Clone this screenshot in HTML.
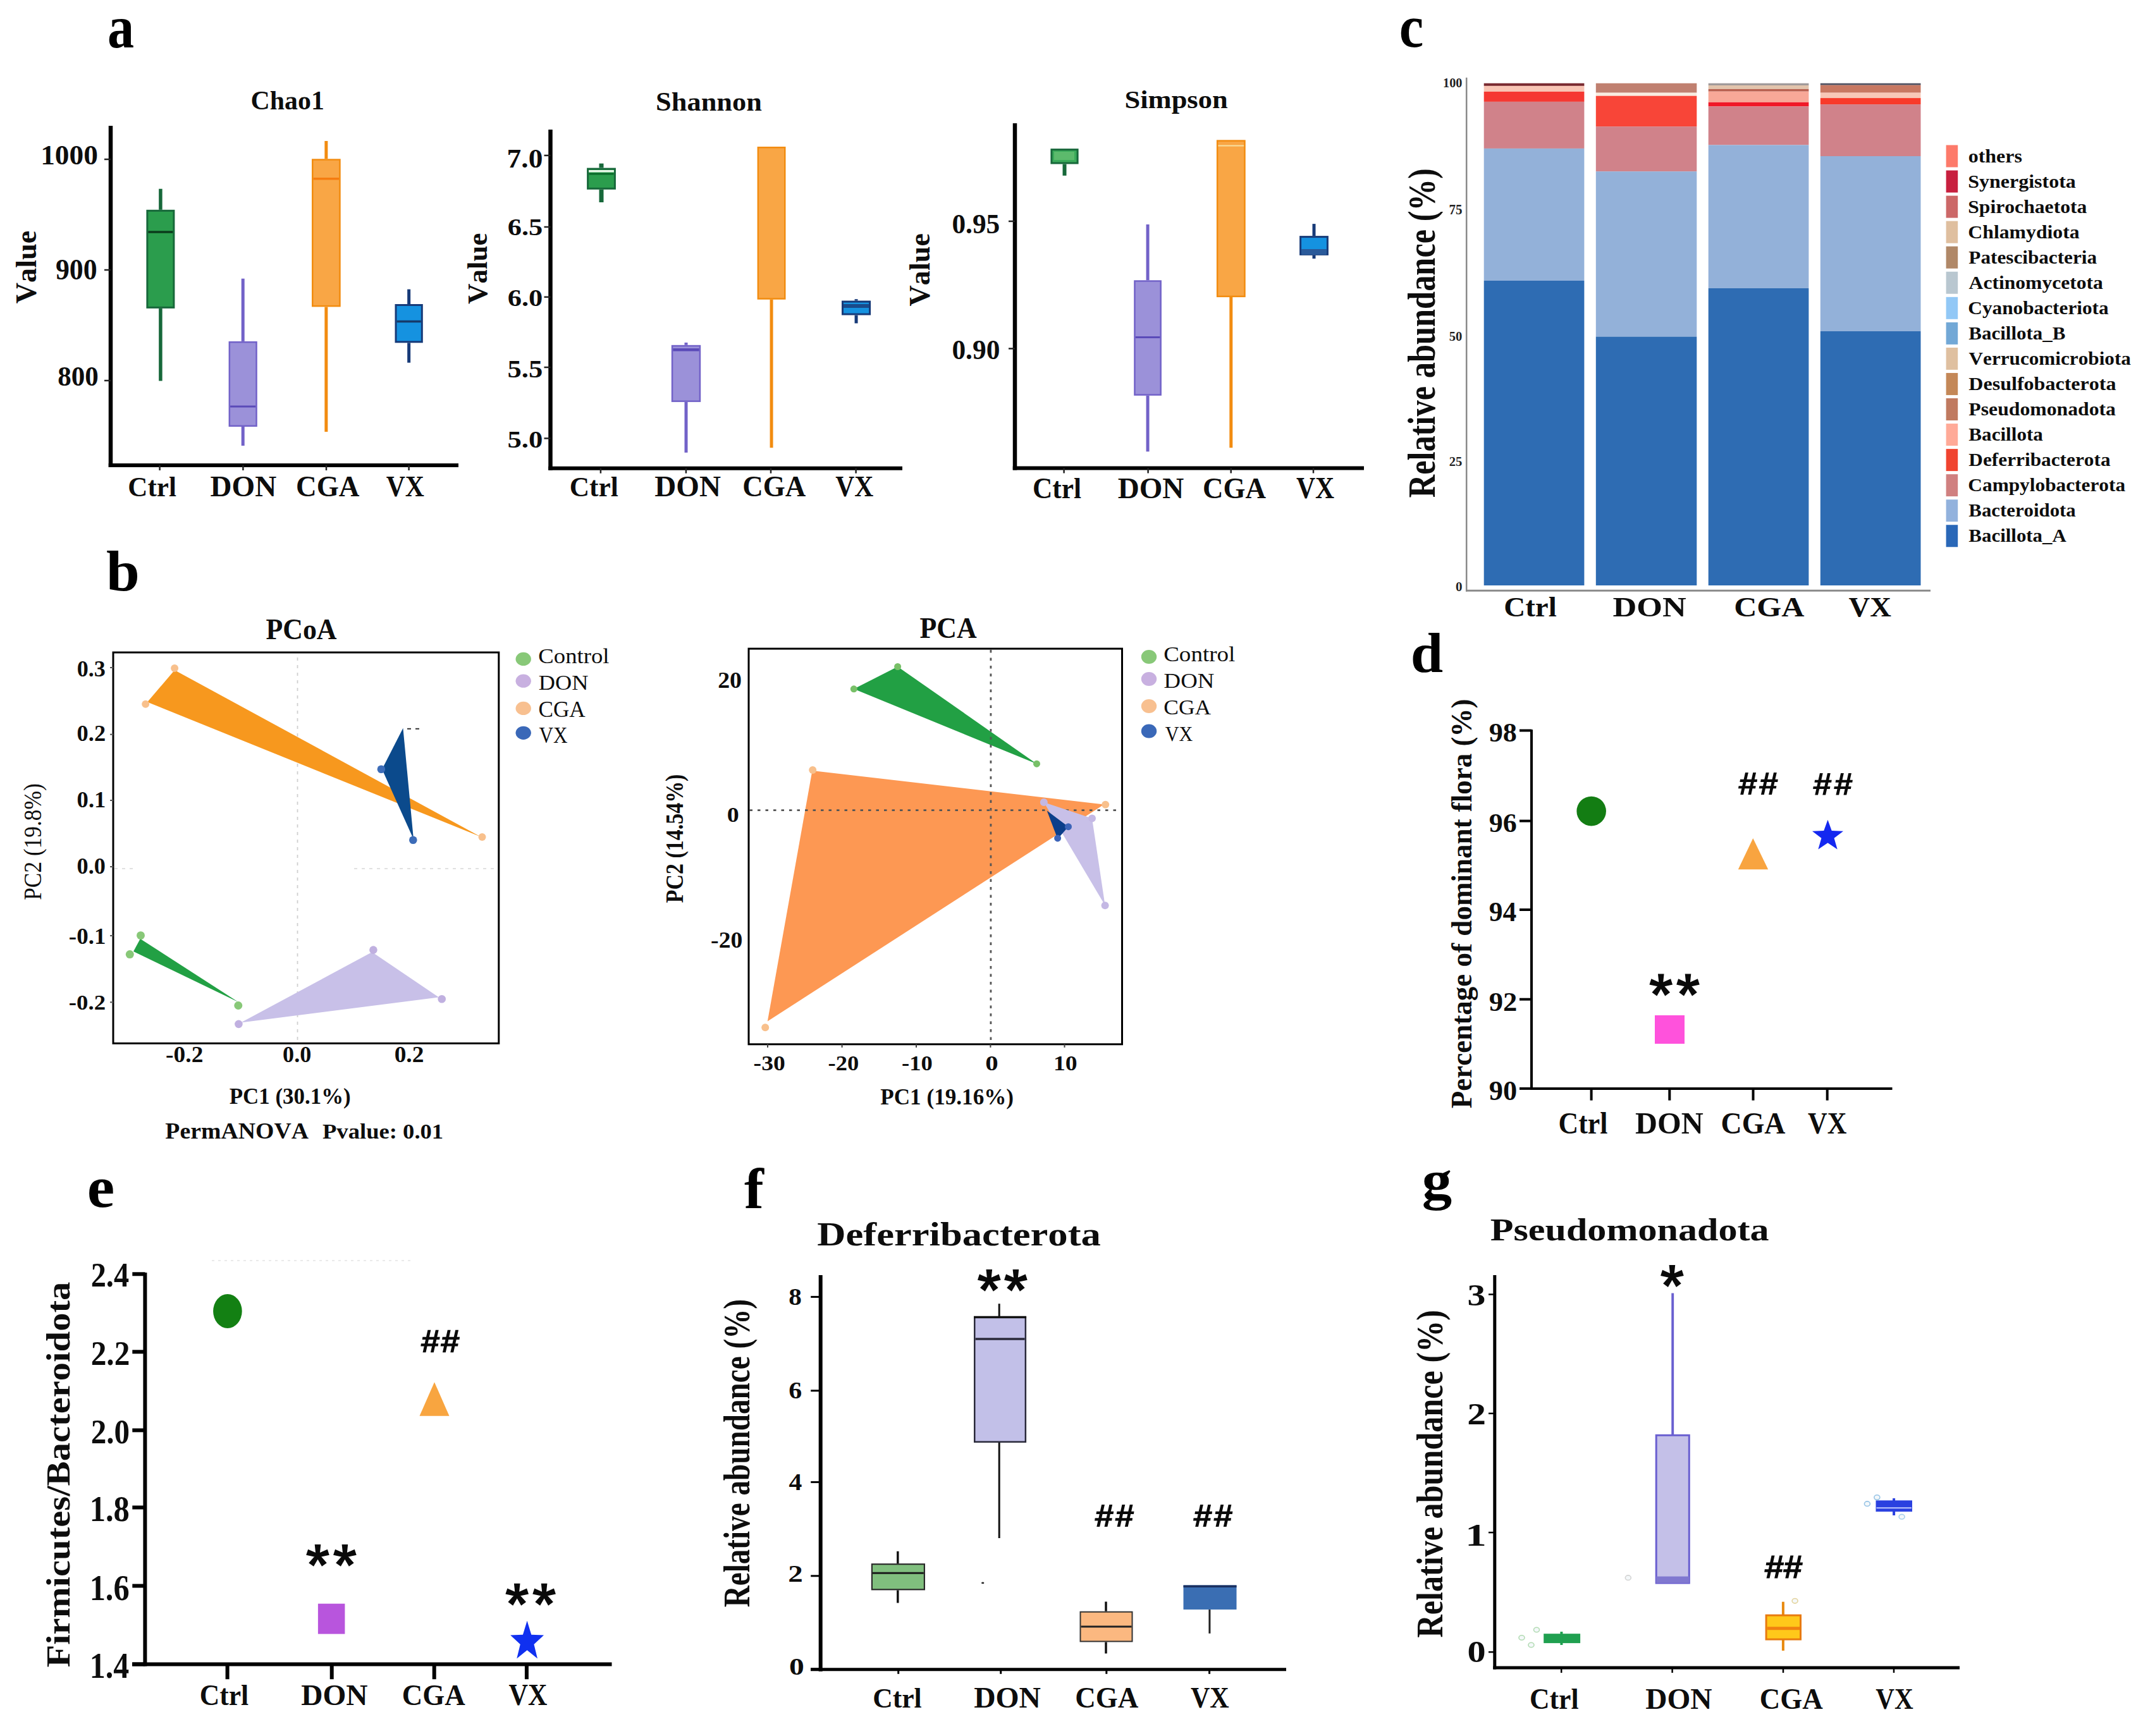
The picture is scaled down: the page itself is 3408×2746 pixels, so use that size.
<!DOCTYPE html>
<html><head><meta charset="utf-8"><style>
html,body{margin:0;padding:0;background:#fff;}
svg{display:block;}
text{font-family:"Liberation Serif", serif;font-kerning:none;}
</style></head><body>
<svg xmlns="http://www.w3.org/2000/svg" width="3408" height="2746" viewBox="0 0 3408 2746">
<rect width="3408" height="2746" fill="#fff"/>
<text x="169.99" y="74.50" font-size="95.90" font-weight="bold" fill="#000" textLength="42.09" lengthAdjust="spacingAndGlyphs" >a</text>
<text x="168.09" y="933.50" font-size="91.66" font-weight="bold" fill="#000" textLength="52.86" lengthAdjust="spacingAndGlyphs" >b</text>
<text x="2212.83" y="73.60" font-size="94.65" font-weight="bold" fill="#000" textLength="38.53" lengthAdjust="spacingAndGlyphs" >c</text>
<text x="2230.66" y="1063.10" font-size="88.49" font-weight="bold" fill="#000" textLength="51.38" lengthAdjust="spacingAndGlyphs" >d</text>
<text x="137.75" y="1908.60" font-size="92.72" font-weight="bold" fill="#000" textLength="43.48" lengthAdjust="spacingAndGlyphs" >e</text>
<text x="1176.92" y="1911.00" font-size="90.33" font-weight="bold" fill="#000" textLength="30.87" lengthAdjust="spacingAndGlyphs" >f</text>
<text x="2248.80" y="1895.65" font-size="87.21" font-weight="bold" fill="#000" textLength="47.43" lengthAdjust="spacingAndGlyphs" >g</text>
<text x="396.56" y="172.90" font-size="42.52" font-weight="bold" fill="#0d0d0d" textLength="116.31" lengthAdjust="spacingAndGlyphs" >Chao1</text>
<line x1="175" y1="199" x2="175" y2="739" stroke="#000" stroke-width="6.5" />
<line x1="171.75" y1="736" x2="725" y2="736" stroke="#000" stroke-width="6" />
<line x1="165" y1="252" x2="175" y2="252" stroke="#222" stroke-width="2.5" />
<text x="64.17" y="260.20" font-size="44.66" font-weight="bold" fill="#0d0d0d" textLength="90.76" lengthAdjust="spacingAndGlyphs" >1000</text>
<line x1="165" y1="427" x2="175" y2="427" stroke="#222" stroke-width="2.5" />
<text x="87.90" y="442.20" font-size="46.01" font-weight="bold" fill="#0d0d0d" textLength="65.77" lengthAdjust="spacingAndGlyphs" >900</text>
<line x1="165" y1="602" x2="175" y2="602" stroke="#222" stroke-width="2.5" />
<text x="91.17" y="609.50" font-size="44.06" font-weight="bold" fill="#0d0d0d" textLength="64.57" lengthAdjust="spacingAndGlyphs" >800</text>
<text transform="translate(56.70,480.32) rotate(-90)" x="0" y="0" font-size="45.83" font-weight="bold" fill="#0d0d0d" textLength="115.51" lengthAdjust="spacingAndGlyphs">Value</text>
<line x1="252.6" y1="736" x2="252.6" y2="744" stroke="#222" stroke-width="2.5" />
<line x1="384.4" y1="736" x2="384.4" y2="744" stroke="#222" stroke-width="2.5" />
<line x1="516" y1="736" x2="516" y2="744" stroke="#222" stroke-width="2.5" />
<line x1="646.6" y1="736" x2="646.6" y2="744" stroke="#222" stroke-width="2.5" />
<text x="202.29" y="784.90" font-size="44.53" font-weight="bold" fill="#0d0d0d" textLength="76.64" lengthAdjust="spacingAndGlyphs" >Ctrl</text>
<text x="332.57" y="784.90" font-size="45.61" font-weight="bold" fill="#0d0d0d" textLength="104.65" lengthAdjust="spacingAndGlyphs" >DON</text>
<text x="468.09" y="784.90" font-size="45.61" font-weight="bold" fill="#0d0d0d" textLength="100.44" lengthAdjust="spacingAndGlyphs" >CGA</text>
<text x="610.63" y="784.90" font-size="46.12" font-weight="bold" fill="#0d0d0d" textLength="60.16" lengthAdjust="spacingAndGlyphs" >VX</text>
<line x1="253.89999999999998" y1="298.7" x2="253.89999999999998" y2="331.8" stroke="#17683a" stroke-width="5.5" />
<line x1="253.89999999999998" y1="487.9" x2="253.89999999999998" y2="602.5" stroke="#17683a" stroke-width="5.5" />
<rect x="232.90" y="333.30" width="42.00" height="153.10" fill="#2b9d4d" stroke="#17683a" stroke-width="3" />
<line x1="234.4" y1="367" x2="273.4" y2="367" stroke="#0b3b1b" stroke-width="3.6" />
<line x1="384.20000000000005" y1="440.7" x2="384.20000000000005" y2="539.9" stroke="#7262c8" stroke-width="5" />
<line x1="384.20000000000005" y1="675" x2="384.20000000000005" y2="705" stroke="#7262c8" stroke-width="5" />
<rect x="362.85" y="541.15" width="42.70" height="132.60" fill="#9b91d9" stroke="#7262c8" stroke-width="2.5" />
<line x1="364.1" y1="643" x2="404.3" y2="643" stroke="#5a4ab8" stroke-width="3" />
<line x1="515.85" y1="223" x2="515.85" y2="251.3" stroke="#f28c10" stroke-width="5" />
<line x1="515.85" y1="485.4" x2="515.85" y2="683" stroke="#f28c10" stroke-width="5" />
<rect x="494.25" y="252.55" width="43.20" height="231.60" fill="#f9a645" stroke="#f28c10" stroke-width="2.5" />
<line x1="495.5" y1="282.7" x2="536.2" y2="282.7" stroke="#f57c10" stroke-width="3.5" />
<line x1="646.65" y1="457.6" x2="646.65" y2="481" stroke="#173a78" stroke-width="5" />
<line x1="646.65" y1="542.3" x2="646.65" y2="573.7" stroke="#173a78" stroke-width="5" />
<rect x="626.00" y="482.50" width="41.30" height="58.30" fill="#1592e0" stroke="#173a78" stroke-width="3" />
<line x1="627.5" y1="508.4" x2="665.8" y2="508.4" stroke="#163a6a" stroke-width="3.5" />
<text x="1037.14" y="175.10" font-size="42.80" font-weight="bold" fill="#0d0d0d" textLength="167.73" lengthAdjust="spacingAndGlyphs" >Shannon</text>
<line x1="870.5" y1="205" x2="870.5" y2="743.7" stroke="#000" stroke-width="6.5" />
<line x1="867.25" y1="740.7" x2="1427" y2="740.7" stroke="#000" stroke-width="6" />
<line x1="860.5" y1="245.9" x2="870.5" y2="245.9" stroke="#222" stroke-width="2.5" />
<text x="801.61" y="265.20" font-size="41.20" font-weight="bold" fill="#0d0d0d" textLength="56.72" lengthAdjust="spacingAndGlyphs" >7.0</text>
<line x1="860.5" y1="359" x2="870.5" y2="359" stroke="#222" stroke-width="2.5" />
<text x="802.68" y="372.30" font-size="38.51" font-weight="bold" fill="#0d0d0d" textLength="55.55" lengthAdjust="spacingAndGlyphs" >6.5</text>
<line x1="860.5" y1="469.8" x2="870.5" y2="469.8" stroke="#222" stroke-width="2.5" />
<text x="802.68" y="484.20" font-size="38.19" font-weight="bold" fill="#0d0d0d" textLength="55.62" lengthAdjust="spacingAndGlyphs" >6.0</text>
<line x1="860.5" y1="581" x2="870.5" y2="581" stroke="#222" stroke-width="2.5" />
<text x="802.41" y="597.00" font-size="39.71" font-weight="bold" fill="#0d0d0d" textLength="55.82" lengthAdjust="spacingAndGlyphs" >5.5</text>
<line x1="860.5" y1="693.4" x2="870.5" y2="693.4" stroke="#222" stroke-width="2.5" />
<text x="802.41" y="707.80" font-size="38.95" font-weight="bold" fill="#0d0d0d" textLength="55.89" lengthAdjust="spacingAndGlyphs" >5.0</text>
<text transform="translate(770.30,480.91) rotate(-90)" x="0" y="0" font-size="43.67" font-weight="bold" fill="#0d0d0d" textLength="112.47" lengthAdjust="spacingAndGlyphs">Value</text>
<line x1="949.9" y1="740.7" x2="949.9" y2="748.7" stroke="#222" stroke-width="2.5" />
<line x1="1084.9" y1="740.7" x2="1084.9" y2="748.7" stroke="#222" stroke-width="2.5" />
<line x1="1219" y1="740.7" x2="1219" y2="748.7" stroke="#222" stroke-width="2.5" />
<line x1="1353.6" y1="740.7" x2="1353.6" y2="748.7" stroke="#222" stroke-width="2.5" />
<text x="900.68" y="784.90" font-size="45.11" font-weight="bold" fill="#0d0d0d" textLength="77.06" lengthAdjust="spacingAndGlyphs" >Ctrl</text>
<text x="1035.37" y="784.90" font-size="46.22" font-weight="bold" fill="#0d0d0d" textLength="104.65" lengthAdjust="spacingAndGlyphs" >DON</text>
<text x="1174.30" y="784.90" font-size="46.22" font-weight="bold" fill="#0d0d0d" textLength="100.03" lengthAdjust="spacingAndGlyphs" >CGA</text>
<text x="1321.13" y="784.90" font-size="46.73" font-weight="bold" fill="#0d0d0d" textLength="60.05" lengthAdjust="spacingAndGlyphs" >VX</text>
<line x1="951.0" y1="258.6" x2="951.0" y2="265.6" stroke="#17683a" stroke-width="7" />
<line x1="951.0" y1="299.8" x2="951.0" y2="320" stroke="#17683a" stroke-width="7" />
<rect x="929.60" y="267.10" width="42.80" height="31.20" fill="#2b9d4d" stroke="#17683a" stroke-width="3" />
<line x1="931.1" y1="270.8" x2="970.9" y2="270.8" stroke="#e8f8e8" stroke-width="3.6" />
<line x1="1085.0" y1="541.9" x2="1085.0" y2="545.8" stroke="#7262c8" stroke-width="5" />
<line x1="1085.0" y1="635.9" x2="1085.0" y2="715.9" stroke="#7262c8" stroke-width="5" />
<rect x="1063.05" y="547.05" width="43.90" height="87.60" fill="#9b91d9" stroke="#7262c8" stroke-width="2.5" />
<line x1="1064.3" y1="553.3" x2="1105.7" y2="553.3" stroke="#5a4ab8" stroke-width="4.5" />
<line x1="1220.05" y1="473.8" x2="1220.05" y2="708.2" stroke="#f28c10" stroke-width="5" />
<rect x="1198.85" y="233.25" width="42.40" height="239.30" fill="#f9a645" stroke="#f28c10" stroke-width="2.5" />
<line x1="1354.05" y1="473.2" x2="1354.05" y2="475.6" stroke="#173a78" stroke-width="5" />
<line x1="1354.05" y1="498.5" x2="1354.05" y2="511.4" stroke="#173a78" stroke-width="5" />
<rect x="1332.50" y="477.10" width="43.10" height="19.90" fill="#1592e0" stroke="#173a78" stroke-width="3" />
<line x1="1334" y1="484" x2="1374.1" y2="484" stroke="#1a4a8a" stroke-width="6" />
<text x="1778.53" y="170.50" font-size="41.08" font-weight="bold" fill="#0d0d0d" textLength="163.14" lengthAdjust="spacingAndGlyphs" >Simpson</text>
<line x1="1605" y1="195" x2="1605" y2="743.5" stroke="#000" stroke-width="6.5" />
<line x1="1601.75" y1="740.5" x2="2157" y2="740.5" stroke="#000" stroke-width="6" />
<line x1="1595" y1="350" x2="1605" y2="350" stroke="#222" stroke-width="2.5" />
<text x="1505.45" y="368.50" font-size="44.51" font-weight="bold" fill="#0d0d0d" textLength="75.84" lengthAdjust="spacingAndGlyphs" >0.95</text>
<line x1="1595" y1="551.4" x2="1605" y2="551.4" stroke="#222" stroke-width="2.5" />
<text x="1505.45" y="567.60" font-size="43.31" font-weight="bold" fill="#0d0d0d" textLength="75.90" lengthAdjust="spacingAndGlyphs" >0.90</text>
<text transform="translate(1470.10,484.52) rotate(-90)" x="0" y="0" font-size="45.98" font-weight="bold" fill="#0d0d0d" textLength="115.51" lengthAdjust="spacingAndGlyphs">Value</text>
<line x1="1682.6" y1="740.5" x2="1682.6" y2="748.5" stroke="#222" stroke-width="2.5" />
<line x1="1815.6" y1="740.5" x2="1815.6" y2="748.5" stroke="#222" stroke-width="2.5" />
<line x1="1946.7" y1="740.5" x2="1946.7" y2="748.5" stroke="#222" stroke-width="2.5" />
<line x1="2077" y1="740.5" x2="2077" y2="748.5" stroke="#222" stroke-width="2.5" />
<text x="1632.88" y="787.90" font-size="46.12" font-weight="bold" fill="#0d0d0d" textLength="77.16" lengthAdjust="spacingAndGlyphs" >Ctrl</text>
<text x="1767.67" y="787.90" font-size="47.27" font-weight="bold" fill="#0d0d0d" textLength="104.65" lengthAdjust="spacingAndGlyphs" >DON</text>
<text x="1902.00" y="787.90" font-size="47.27" font-weight="bold" fill="#0d0d0d" textLength="100.03" lengthAdjust="spacingAndGlyphs" >CGA</text>
<text x="2049.93" y="787.90" font-size="47.80" font-weight="bold" fill="#0d0d0d" textLength="60.16" lengthAdjust="spacingAndGlyphs" >VX</text>
<line x1="1683.5" y1="259.5" x2="1683.5" y2="277.8" stroke="#17683a" stroke-width="6" />
<rect x="1662.90" y="236.60" width="41.20" height="21.40" fill="#3aaa5a" stroke="#17683a" stroke-width="3" />
<line x1="1815.0500000000002" y1="355" x2="1815.0500000000002" y2="443.3" stroke="#7262c8" stroke-width="5" />
<line x1="1815.0500000000002" y1="625.8" x2="1815.0500000000002" y2="714.3" stroke="#7262c8" stroke-width="5" />
<rect x="1794.45" y="444.55" width="41.20" height="180.00" fill="#9b91d9" stroke="#7262c8" stroke-width="2.5" />
<line x1="1795.7" y1="533.6" x2="1834.4" y2="533.6" stroke="#5a4ab8" stroke-width="3" />
<line x1="1946.8000000000002" y1="470.1" x2="1946.8000000000002" y2="708.2" stroke="#f28c10" stroke-width="5" />
<rect x="1925.15" y="222.65" width="43.30" height="246.20" fill="#f9a645" stroke="#f28c10" stroke-width="2.5" />
<line x1="1926.4" y1="230.5" x2="1967.2" y2="230.5" stroke="#f8e0a0" stroke-width="2" />
<line x1="2078.0" y1="354.1" x2="2078.0" y2="373.1" stroke="#173a78" stroke-width="5" />
<line x1="2078.0" y1="403.9" x2="2078.0" y2="409.1" stroke="#173a78" stroke-width="5" />
<rect x="2056.60" y="374.60" width="42.80" height="27.80" fill="#1592e0" stroke="#173a78" stroke-width="3" />
<line x1="2058.1" y1="398.5" x2="2097.9" y2="398.5" stroke="#2a5a9a" stroke-width="9" />
<line x1="931.5" y1="275" x2="970.5" y2="275" stroke="#0a6a2a" stroke-width="3" />
<rect x="1667.00" y="240.00" width="32.00" height="13.00" fill="#5cba6c" />
<line x1="2319.2" y1="122.7" x2="2319.2" y2="935.5" stroke="#8a8a8a" stroke-width="2.5" />
<line x1="2318" y1="934.3" x2="3053" y2="934.3" stroke="#8a8a8a" stroke-width="3" />
<text x="2282.08" y="138.20" font-size="20.60" font-weight="bold" fill="#222" textLength="30.29" lengthAdjust="spacingAndGlyphs" >100</text>
<text x="2291.40" y="338.50" font-size="22.14" font-weight="bold" fill="#222" textLength="20.97" lengthAdjust="spacingAndGlyphs" >75</text>
<text x="2291.77" y="539.00" font-size="21.80" font-weight="bold" fill="#222" textLength="20.61" lengthAdjust="spacingAndGlyphs" >50</text>
<text x="2291.73" y="736.80" font-size="21.90" font-weight="bold" fill="#222" textLength="20.62" lengthAdjust="spacingAndGlyphs" >25</text>
<text x="2301.90" y="934.70" font-size="21.35" font-weight="bold" fill="#222" textLength="10.50" lengthAdjust="spacingAndGlyphs" >0</text>
<text transform="translate(2268.50,787.16) rotate(-90)" x="0" y="0" font-size="62.01" font-weight="bold" fill="#0d0d0d" textLength="520.88" lengthAdjust="spacingAndGlyphs">Relative abundance (%)</text>
<rect x="2346.70" y="131.70" width="158.70" height="4.20" fill="#7a2a30" />
<rect x="2346.70" y="135.90" width="158.70" height="9.10" fill="#f8c4b4" />
<rect x="2346.70" y="145.00" width="158.70" height="15.90" fill="#f53832" />
<rect x="2346.70" y="160.90" width="158.70" height="74.00" fill="#d0828a" />
<rect x="2346.70" y="234.90" width="158.70" height="209.10" fill="#93b1d9" />
<rect x="2346.70" y="444.00" width="158.70" height="482.00" fill="#2e6cb3" />
<rect x="2523.80" y="131.70" width="159.50" height="15.00" fill="#c08070" />
<rect x="2523.80" y="146.70" width="159.50" height="5.00" fill="#f8ece0" />
<rect x="2523.80" y="151.70" width="159.50" height="48.50" fill="#f84538" />
<rect x="2523.80" y="200.20" width="159.50" height="71.00" fill="#d0828a" />
<rect x="2523.80" y="271.20" width="159.50" height="261.30" fill="#93b1d9" />
<rect x="2523.80" y="532.50" width="159.50" height="393.50" fill="#2e6cb3" />
<rect x="2701.70" y="131.70" width="158.70" height="3.30" fill="#a09a9a" />
<rect x="2701.70" y="135.00" width="158.70" height="5.90" fill="#e2c4ac" />
<rect x="2701.70" y="140.90" width="158.70" height="3.80" fill="#b86050" />
<rect x="2701.70" y="144.70" width="158.70" height="17.10" fill="#f8a898" />
<rect x="2701.70" y="161.80" width="158.70" height="6.60" fill="#f01828" />
<rect x="2701.70" y="168.40" width="158.70" height="61.00" fill="#d0828a" />
<rect x="2701.70" y="229.40" width="158.70" height="226.60" fill="#93b1d9" />
<rect x="2701.70" y="456.00" width="158.70" height="470.00" fill="#2e6cb3" />
<rect x="2878.80" y="131.70" width="158.70" height="3.00" fill="#505060" />
<rect x="2878.80" y="134.70" width="158.70" height="12.00" fill="#c87862" />
<rect x="2878.80" y="146.70" width="158.70" height="8.40" fill="#f8c8b8" />
<rect x="2878.80" y="155.10" width="158.70" height="10.00" fill="#f83a2a" />
<rect x="2878.80" y="165.10" width="158.70" height="81.90" fill="#d0828a" />
<rect x="2878.80" y="247.00" width="158.70" height="277.00" fill="#93b1d9" />
<rect x="2878.80" y="524.00" width="158.70" height="402.00" fill="#2e6cb3" />
<text x="2378.20" y="974.80" font-size="43.53" font-weight="bold" fill="#0d0d0d" textLength="83.60" lengthAdjust="spacingAndGlyphs" >Ctrl</text>
<text x="2550.58" y="974.80" font-size="44.25" font-weight="bold" fill="#0d0d0d" textLength="116.31" lengthAdjust="spacingAndGlyphs" >DON</text>
<text x="2742.15" y="974.80" font-size="44.25" font-weight="bold" fill="#0d0d0d" textLength="111.42" lengthAdjust="spacingAndGlyphs" >CGA</text>
<text x="2923.58" y="974.80" font-size="44.75" font-weight="bold" fill="#0d0d0d" textLength="67.47" lengthAdjust="spacingAndGlyphs" >VX</text>
<rect x="3077.60" y="229.50" width="18.60" height="35.00" fill="#fd7a6a" />
<text x="3112.68" y="257.20" font-size="29.93" font-weight="bold" fill="#0d0d0d" textLength="85.20" lengthAdjust="spacingAndGlyphs">others</text>
<rect x="3077.60" y="269.55" width="18.60" height="35.00" fill="#c8203f" />
<text x="3112.20" y="297.20" font-size="29.93" font-weight="bold" fill="#0d0d0d" textLength="170.59" lengthAdjust="spacingAndGlyphs">Synergistota</text>
<rect x="3077.60" y="309.60" width="18.60" height="35.00" fill="#cc6868" />
<text x="3112.22" y="337.20" font-size="29.93" font-weight="bold" fill="#0d0d0d" textLength="188.16" lengthAdjust="spacingAndGlyphs">Spirochaetota</text>
<rect x="3077.60" y="349.65" width="18.60" height="35.00" fill="#dfbf9f" />
<text x="3112.35" y="377.20" font-size="29.93" font-weight="bold" fill="#0d0d0d" textLength="176.33" lengthAdjust="spacingAndGlyphs">Chlamydiota</text>
<rect x="3077.60" y="389.70" width="18.60" height="35.00" fill="#b08868" />
<text x="3113.37" y="417.20" font-size="29.93" font-weight="bold" fill="#0d0d0d" textLength="202.71" lengthAdjust="spacingAndGlyphs">Patescibacteria</text>
<rect x="3077.60" y="429.75" width="18.60" height="35.00" fill="#b9c7d0" />
<text x="3113.59" y="457.20" font-size="29.93" font-weight="bold" fill="#0d0d0d" textLength="212.29" lengthAdjust="spacingAndGlyphs">Actinomycetota</text>
<rect x="3077.60" y="469.80" width="18.60" height="35.00" fill="#92c8f6" />
<text x="3112.37" y="497.20" font-size="29.93" font-weight="bold" fill="#0d0d0d" textLength="222.30" lengthAdjust="spacingAndGlyphs">Cyanobacteriota</text>
<rect x="3077.60" y="509.85" width="18.60" height="35.00" fill="#72a8d6" />
<text x="3113.39" y="537.20" font-size="29.93" font-weight="bold" fill="#0d0d0d" textLength="153.08" lengthAdjust="spacingAndGlyphs">Bacillota_B</text>
<rect x="3077.60" y="549.90" width="18.60" height="35.00" fill="#dfc0a0" />
<text x="3113.55" y="577.20" font-size="29.93" font-weight="bold" fill="#0d0d0d" textLength="256.32" lengthAdjust="spacingAndGlyphs">Verrucomicrobiota</text>
<rect x="3077.60" y="589.95" width="18.60" height="35.00" fill="#c48858" />
<text x="3113.34" y="617.20" font-size="29.93" font-weight="bold" fill="#0d0d0d" textLength="233.15" lengthAdjust="spacingAndGlyphs">Desulfobacterota</text>
<rect x="3077.60" y="630.00" width="18.60" height="35.00" fill="#c07a60" />
<text x="3113.36" y="657.20" font-size="29.93" font-weight="bold" fill="#0d0d0d" textLength="232.62" lengthAdjust="spacingAndGlyphs">Pseudomonadota</text>
<rect x="3077.60" y="670.05" width="18.60" height="35.00" fill="#ffaa98" />
<text x="3113.38" y="697.20" font-size="29.93" font-weight="bold" fill="#0d0d0d" textLength="117.49" lengthAdjust="spacingAndGlyphs">Bacillota</text>
<rect x="3077.60" y="710.10" width="18.60" height="35.00" fill="#f04430" />
<text x="3113.35" y="737.20" font-size="29.93" font-weight="bold" fill="#0d0d0d" textLength="224.22" lengthAdjust="spacingAndGlyphs">Deferribacterota</text>
<rect x="3077.60" y="750.15" width="18.60" height="35.00" fill="#d08080" />
<text x="3112.37" y="777.20" font-size="29.93" font-weight="bold" fill="#0d0d0d" textLength="248.70" lengthAdjust="spacingAndGlyphs">Campylobacterota</text>
<rect x="3077.60" y="790.20" width="18.60" height="35.00" fill="#92b2dd" />
<text x="3113.39" y="817.20" font-size="29.93" font-weight="bold" fill="#0d0d0d" textLength="169.38" lengthAdjust="spacingAndGlyphs">Bacteroidota</text>
<rect x="3077.60" y="830.25" width="18.60" height="35.00" fill="#2a68b8" />
<text x="3113.39" y="857.20" font-size="29.93" font-weight="bold" fill="#0d0d0d" textLength="154.44" lengthAdjust="spacingAndGlyphs">Bacillota_A</text>
<text x="420.45" y="1011.20" font-size="46.67" font-weight="bold" fill="#0d0d0d" textLength="112.07" lengthAdjust="spacingAndGlyphs" >PCoA</text>
<line x1="470.5" y1="1040" x2="470.5" y2="1646" stroke="#cfcfcf" stroke-width="1.8" stroke-dasharray="5 7"/>
<line x1="181" y1="1374" x2="215" y2="1374" stroke="#d8d8d8" stroke-width="1.5" stroke-dasharray="5 7"/>
<line x1="560" y1="1374" x2="786" y2="1374" stroke="#d8d8d8" stroke-width="1.5" stroke-dasharray="5 7"/>
<polygon points="276.10,1060.00 233.00,1110.50 760.00,1323.50" fill="#f7981e" />
<circle cx="276.1" cy="1057.1" r="6" fill="#f8c08c" />
<circle cx="230.2" cy="1113.7" r="6" fill="#f8c08c" />
<circle cx="762.5" cy="1323.9" r="6" fill="#f8c08c" />
<polygon points="637.40,1151.80 604.20,1216.80 654.00,1327.40" fill="#0b4a8c" />
<circle cx="602.9" cy="1216.8" r="6.3" fill="#3c6cb8" />
<circle cx="653.3" cy="1328.8" r="6.3" fill="#3c6cb8" />
<polygon points="221.80,1485.00 211.00,1505.00 376.80,1585.00" fill="#22a044" />
<circle cx="222.5" cy="1479.7" r="6.5" fill="#88c878" />
<circle cx="205.3" cy="1509.6" r="6.5" fill="#88c878" />
<circle cx="376.8" cy="1590.5" r="6.5" fill="#88c878" />
<polygon points="588.40,1506.00 694.00,1577.50 381.00,1617.50" fill="#c8c0e8" />
<circle cx="590.4" cy="1502.6" r="6.3" fill="#c0b0e0" />
<circle cx="698.7" cy="1580.3" r="6.3" fill="#c0b0e0" />
<circle cx="377.4" cy="1619.9" r="6.3" fill="#c0b0e0" />
<line x1="644" y1="1152.8" x2="650" y2="1152.8" stroke="#333" stroke-width="2" />
<line x1="657" y1="1152.8" x2="663" y2="1152.8" stroke="#333" stroke-width="2" />
<rect x="179.00" y="1032.00" width="609.80" height="618.40" fill="none" stroke="#000" stroke-width="3" />
<line x1="174" y1="1056" x2="179" y2="1056" stroke="#555" stroke-width="2" />
<text x="121.63" y="1069.70" font-size="36.24" font-weight="bold" fill="#0d0d0d" textLength="45.11" lengthAdjust="spacingAndGlyphs" >0.3</text>
<line x1="174" y1="1161.7" x2="179" y2="1161.7" stroke="#555" stroke-width="2" />
<text x="121.62" y="1172.20" font-size="34.89" font-weight="bold" fill="#0d0d0d" textLength="45.45" lengthAdjust="spacingAndGlyphs" >0.2</text>
<line x1="174" y1="1266" x2="179" y2="1266" stroke="#555" stroke-width="2" />
<text x="121.60" y="1277.40" font-size="35.49" font-weight="bold" fill="#0d0d0d" textLength="45.79" lengthAdjust="spacingAndGlyphs" >0.1</text>
<line x1="174" y1="1371" x2="179" y2="1371" stroke="#555" stroke-width="2" />
<text x="121.62" y="1382.40" font-size="35.79" font-weight="bold" fill="#0d0d0d" textLength="45.26" lengthAdjust="spacingAndGlyphs" >0.0</text>
<line x1="174" y1="1480.1" x2="179" y2="1480.1" stroke="#555" stroke-width="2" />
<text x="108.85" y="1492.80" font-size="36.09" font-weight="bold" fill="#0d0d0d" textLength="58.57" lengthAdjust="spacingAndGlyphs" >-0.1</text>
<line x1="174" y1="1585.3" x2="179" y2="1585.3" stroke="#555" stroke-width="2" />
<text x="108.85" y="1597.20" font-size="34.58" font-weight="bold" fill="#0d0d0d" textLength="58.23" lengthAdjust="spacingAndGlyphs" >-0.2</text>
<text x="262.13" y="1680.10" font-size="35.34" font-weight="bold" fill="#0d0d0d" textLength="59.28" lengthAdjust="spacingAndGlyphs" >-0.2</text>
<text x="447.12" y="1680.10" font-size="35.34" font-weight="bold" fill="#0d0d0d" textLength="45.26" lengthAdjust="spacingAndGlyphs" >0.0</text>
<text x="623.68" y="1680.10" font-size="35.34" font-weight="bold" fill="#0d0d0d" textLength="46.73" lengthAdjust="spacingAndGlyphs" >0.2</text>
<text x="362.80" y="1745.80" font-size="34.97" font-weight="bold" fill="#0d0d0d" textLength="191.93" lengthAdjust="spacingAndGlyphs" >PC1 (30.1%)</text>
<text x="261.35" y="1801.40" font-size="36.25" font-weight="bold" fill="#0d0d0d" textLength="226.62" lengthAdjust="spacingAndGlyphs" >PermANOVA</text>
<text x="509.97" y="1801.40" font-size="34.59" font-weight="bold" fill="#0d0d0d" textLength="191.22" lengthAdjust="spacingAndGlyphs" >Pvalue: 0.01</text>
<text transform="translate(65.00,1423.82) rotate(-90)" x="0" y="0" font-size="39.71" font-weight="normal" fill="#0d0d0d" textLength="184.47" lengthAdjust="spacingAndGlyphs">PC2 (19.8%)</text>
<ellipse cx="827.7" cy="1042.4" rx="12.2" ry="10.6" fill="#88c878" />
<text x="851.39" y="1049.40" font-size="32.86" font-weight="normal" fill="#0d0d0d" textLength="112.14" lengthAdjust="spacingAndGlyphs" >Control</text>
<ellipse cx="827.7" cy="1077.2" rx="12.2" ry="10.6" fill="#c8b0e0" />
<text x="851.86" y="1091.40" font-size="34.44" font-weight="normal" fill="#0d0d0d" textLength="78.58" lengthAdjust="spacingAndGlyphs" >DON</text>
<ellipse cx="827.7" cy="1120.4" rx="12.2" ry="10.6" fill="#f8c090" />
<text x="851.46" y="1133.90" font-size="35.19" font-weight="normal" fill="#0d0d0d" textLength="74.30" lengthAdjust="spacingAndGlyphs" >CGA</text>
<ellipse cx="827.7" cy="1159.3" rx="12.2" ry="10.6" fill="#3a68b8" />
<text x="852.55" y="1175.40" font-size="34.82" font-weight="normal" fill="#0d0d0d" textLength="44.91" lengthAdjust="spacingAndGlyphs" >VX</text>
<text x="1454.55" y="1009.10" font-size="45.76" font-weight="bold" fill="#0d0d0d" textLength="90.17" lengthAdjust="spacingAndGlyphs" >PCA</text>
<polygon points="1419.60,1054.50 1350.30,1089.80 1639.50,1208.20" fill="#22a044" />
<circle cx="1419.6" cy="1054.5" r="5.5" fill="#78c068" />
<circle cx="1350.3" cy="1089.8" r="5.5" fill="#78c068" />
<circle cx="1639.5" cy="1208.2" r="5.5" fill="#78c068" />
<polygon points="1284.50,1219.00 1746.00,1272.50 1213.80,1615.50" fill="#fd9853" />
<circle cx="1285.2" cy="1218" r="6" fill="#f8c08c" />
<circle cx="1748.2" cy="1272.7" r="6" fill="#f8c08c" />
<circle cx="1210.2" cy="1625.3" r="6" fill="#f8c08c" />
<line x1="1566.9" y1="1028" x2="1566.9" y2="1650" stroke="#555" stroke-width="2.8" stroke-dasharray="4.5 8"/>
<line x1="1185.5" y1="1281.7" x2="1773" y2="1281.7" stroke="#555" stroke-width="2.8" stroke-dasharray="4.5 8"/>
<polygon points="1650.80,1269.00 1727.00,1294.40 1747.60,1432.30" fill="#c8c0e8" />
<circle cx="1650.8" cy="1269" r="6" fill="#c4b8e4" />
<circle cx="1727" cy="1294.4" r="6" fill="#c4b8e4" />
<circle cx="1747.6" cy="1432.3" r="6" fill="#c4b8e4" />
<polygon points="1655.60,1282.30 1689.50,1307.70 1672.60,1327.10" fill="#0b3e8a" />
<circle cx="1672.6" cy="1325.9" r="5.5" fill="#3c64b8" />
<circle cx="1689.5" cy="1307.7" r="5.5" fill="#3c64b8" />
<rect x="1184.00" y="1026.10" width="590.50" height="625.70" fill="none" stroke="#000" stroke-width="3" />
<text x="1135.21" y="1088.20" font-size="36.09" font-weight="bold" fill="#0d0d0d" textLength="37.83" lengthAdjust="spacingAndGlyphs" >20</text>
<text x="1149.85" y="1300.10" font-size="33.38" font-weight="bold" fill="#0d0d0d" textLength="18.99" lengthAdjust="spacingAndGlyphs" >0</text>
<text x="1124.12" y="1499.20" font-size="36.84" font-weight="bold" fill="#0d0d0d" textLength="50.21" lengthAdjust="spacingAndGlyphs" >-20</text>
<line x1="1214" y1="1651.8" x2="1214" y2="1657" stroke="#444" stroke-width="2" />
<text x="1191.62" y="1693.30" font-size="33.98" font-weight="bold" fill="#0d0d0d" textLength="50.21" lengthAdjust="spacingAndGlyphs" >-30</text>
<line x1="1331.6" y1="1651.8" x2="1331.6" y2="1657" stroke="#444" stroke-width="2" />
<text x="1309.56" y="1693.30" font-size="33.98" font-weight="bold" fill="#0d0d0d" textLength="48.73" lengthAdjust="spacingAndGlyphs" >-20</text>
<line x1="1449" y1="1651.8" x2="1449" y2="1657" stroke="#444" stroke-width="2" />
<text x="1426.06" y="1693.30" font-size="33.98" font-weight="bold" fill="#0d0d0d" textLength="48.73" lengthAdjust="spacingAndGlyphs" >-10</text>
<line x1="1566.4" y1="1651.8" x2="1566.4" y2="1657" stroke="#444" stroke-width="2" />
<text x="1558.15" y="1693.30" font-size="33.98" font-weight="bold" fill="#0d0d0d" textLength="20.41" lengthAdjust="spacingAndGlyphs" >0</text>
<line x1="1683.5" y1="1651.8" x2="1683.5" y2="1657" stroke="#444" stroke-width="2" />
<text x="1665.99" y="1693.30" font-size="33.98" font-weight="bold" fill="#0d0d0d" textLength="37.65" lengthAdjust="spacingAndGlyphs" >10</text>
<text x="1392.30" y="1746.70" font-size="35.13" font-weight="bold" fill="#0d0d0d" textLength="210.74" lengthAdjust="spacingAndGlyphs" >PC1 (19.16%)</text>
<text transform="translate(1080.30,1428.28) rotate(-90)" x="0" y="0" font-size="39.40" font-weight="bold" fill="#0d0d0d" textLength="203.67" lengthAdjust="spacingAndGlyphs">PC2 (14.54%)</text>
<ellipse cx="1817" cy="1039" rx="12.2" ry="10.9" fill="#88c878" />
<text x="1840.18" y="1045.80" font-size="32.86" font-weight="normal" fill="#0d0d0d" textLength="113.16" lengthAdjust="spacingAndGlyphs" >Control</text>
<ellipse cx="1817" cy="1074" rx="12.2" ry="10.9" fill="#c8b0e0" />
<text x="1840.64" y="1087.80" font-size="32.93" font-weight="normal" fill="#0d0d0d" textLength="79.60" lengthAdjust="spacingAndGlyphs" >DON</text>
<ellipse cx="1817" cy="1117" rx="12.2" ry="10.9" fill="#f8c090" />
<text x="1840.25" y="1129.80" font-size="34.59" font-weight="normal" fill="#0d0d0d" textLength="74.81" lengthAdjust="spacingAndGlyphs" >CGA</text>
<ellipse cx="1817" cy="1156.5" rx="12.2" ry="10.9" fill="#3a68b8" />
<text x="1842.86" y="1171.70" font-size="33.90" font-weight="normal" fill="#0d0d0d" textLength="43.48" lengthAdjust="spacingAndGlyphs" >VX</text>
<line x1="2422" y1="1154" x2="2422" y2="1724" stroke="#000" stroke-width="4" />
<line x1="2420" y1="1722" x2="2992.5" y2="1722" stroke="#000" stroke-width="4" />
<line x1="2403" y1="1155.5" x2="2422" y2="1155.5" stroke="#000" stroke-width="4" />
<text x="2354.79" y="1172.50" font-size="42.85" font-weight="bold" fill="#0d0d0d" textLength="44.17" lengthAdjust="spacingAndGlyphs" >98</text>
<line x1="2403" y1="1298.6" x2="2422" y2="1298.6" stroke="#000" stroke-width="4" />
<text x="2354.80" y="1315.80" font-size="43.20" font-weight="bold" fill="#0d0d0d" textLength="43.99" lengthAdjust="spacingAndGlyphs" >96</text>
<line x1="2403" y1="1439" x2="2422" y2="1439" stroke="#000" stroke-width="4" />
<text x="2354.81" y="1456.80" font-size="43.50" font-weight="bold" fill="#0d0d0d" textLength="43.50" lengthAdjust="spacingAndGlyphs" >94</text>
<line x1="2403" y1="1580.7" x2="2422" y2="1580.7" stroke="#000" stroke-width="4" />
<text x="2354.78" y="1598.50" font-size="43.04" font-weight="bold" fill="#0d0d0d" textLength="44.64" lengthAdjust="spacingAndGlyphs" >92</text>
<line x1="2403" y1="1721.9" x2="2422" y2="1721.9" stroke="#000" stroke-width="4" />
<text x="2354.79" y="1739.50" font-size="44.36" font-weight="bold" fill="#0d0d0d" textLength="44.41" lengthAdjust="spacingAndGlyphs" >90</text>
<line x1="2516.6" y1="1722" x2="2516.6" y2="1740.6" stroke="#000" stroke-width="4" />
<line x1="2640.3" y1="1722" x2="2640.3" y2="1740.6" stroke="#000" stroke-width="4" />
<line x1="2772.5" y1="1722" x2="2772.5" y2="1740.6" stroke="#000" stroke-width="4" />
<line x1="2889.7" y1="1722" x2="2889.7" y2="1740.6" stroke="#000" stroke-width="4" />
<text x="2464.56" y="1792.80" font-size="48.43" font-weight="bold" fill="#0d0d0d" textLength="77.79" lengthAdjust="spacingAndGlyphs" >Ctrl</text>
<text x="2586.05" y="1792.80" font-size="48.63" font-weight="bold" fill="#0d0d0d" textLength="107.79" lengthAdjust="spacingAndGlyphs" >DON</text>
<text x="2721.56" y="1792.80" font-size="48.63" font-weight="bold" fill="#0d0d0d" textLength="101.87" lengthAdjust="spacingAndGlyphs" >CGA</text>
<text x="2859.02" y="1792.80" font-size="49.18" font-weight="bold" fill="#0d0d0d" textLength="61.27" lengthAdjust="spacingAndGlyphs" >VX</text>
<!--d ylabel-->
<text transform="translate(2327.20,1753.17) rotate(-90)" x="0" y="0" font-size="45.66" font-weight="bold" fill="#0d0d0d" textLength="647.75" lengthAdjust="spacingAndGlyphs">Percentage of dominant flora (%)</text>
<circle cx="2516.65" cy="1283.1" r="23.3" fill="#137d13" />
<rect x="2617.00" y="1606.00" width="47.00" height="45.00" fill="#ff52dc" />
<polygon points="2772.30,1326.00 2796.20,1375.20 2748.80,1375.20" fill="#f8a440" />
<polygon points="2890.50,1296.80 2896.72,1314.04 2915.04,1314.63 2900.56,1325.87 2905.66,1343.47 2890.50,1333.18 2875.34,1343.47 2880.44,1325.87 2865.96,1314.63 2884.28,1314.04" fill="#1428f0" />
<path d="M2629.75,1558.30 L2631.55,1540.60 L2621.95,1540.60 L2623.75,1558.30Z M2627.68,1561.15 L2645.07,1557.40 L2642.10,1548.27 L2625.82,1555.45Z M2624.32,1560.06 L2633.27,1575.44 L2641.04,1569.80 L2629.18,1556.54Z M2624.32,1556.54 L2612.46,1569.80 L2620.23,1575.44 L2629.18,1560.06Z M2627.68,1555.45 L2611.40,1548.27 L2608.43,1557.40 L2625.82,1561.15Z" fill="#0a0a0a"/>
<circle cx="2626.75" cy="1558.3" r="3.7199999999999998" fill="#0a0a0a" />
<path d="M2672.50,1558.30 L2674.30,1540.60 L2664.70,1540.60 L2666.50,1558.30Z M2670.43,1561.15 L2687.82,1557.40 L2684.85,1548.27 L2668.57,1555.45Z M2667.07,1560.06 L2676.02,1575.44 L2683.79,1569.80 L2671.93,1556.54Z M2667.07,1556.54 L2655.21,1569.80 L2662.98,1575.44 L2671.93,1560.06Z M2670.43,1555.45 L2654.15,1548.27 L2651.18,1557.40 L2668.57,1561.15Z" fill="#0a0a0a"/>
<circle cx="2669.5" cy="1558.3" r="3.7199999999999998" fill="#0a0a0a" />
<path d="M2760.03,1221.90 L2764.85,1221.90 L2757.02,1257.00 L2752.21,1257.00Z M2772.27,1221.90 L2777.08,1221.90 L2769.26,1257.00 L2764.44,1257.00Z M2752.01,1232.73 L2779.09,1232.73 L2778.48,1236.94 L2751.41,1236.94Z M2749.60,1243.16 L2776.68,1243.16 L2776.08,1247.37 L2749.00,1247.37Z" fill="#0a0a0a"/>
<path d="M2792.75,1221.90 L2797.56,1221.90 L2789.74,1257.00 L2784.92,1257.00Z M2804.98,1221.90 L2809.79,1221.90 L2801.97,1257.00 L2797.16,1257.00Z M2784.72,1232.73 L2811.80,1232.73 L2811.20,1236.94 L2784.12,1236.94Z M2782.32,1243.16 L2809.39,1243.16 L2808.79,1247.37 L2781.71,1247.37Z" fill="#0a0a0a"/>
<path d="M2877.97,1223.00 L2882.72,1223.00 L2875.01,1257.60 L2870.26,1257.60Z M2890.03,1223.00 L2894.78,1223.00 L2887.07,1257.60 L2882.32,1257.60Z M2870.07,1233.68 L2896.76,1233.68 L2896.16,1237.83 L2869.47,1237.83Z M2867.69,1243.96 L2894.38,1243.96 L2893.79,1248.11 L2867.10,1248.11Z" fill="#0a0a0a"/>
<path d="M2911.12,1223.00 L2915.86,1223.00 L2908.15,1257.60 L2903.41,1257.60Z M2923.18,1223.00 L2927.92,1223.00 L2920.21,1257.60 L2915.47,1257.60Z M2903.21,1233.68 L2929.90,1233.68 L2929.31,1237.83 L2902.62,1237.83Z M2900.84,1243.96 L2927.53,1243.96 L2926.93,1248.11 L2900.24,1248.11Z" fill="#0a0a0a"/>
<line x1="1994" y1="1994" x2="1994" y2="1994" stroke="#fff" stroke-width="0" />
<line x1="335" y1="1994" x2="650" y2="1994" stroke="#e4e4e4" stroke-width="1.5" stroke-dasharray="4 6"/>
<line x1="229.4" y1="2013" x2="229.4" y2="2635.5" stroke="#000" stroke-width="6" />
<line x1="209" y1="2632.5" x2="967.5" y2="2632.5" stroke="#000" stroke-width="6" />
<line x1="209.3" y1="2015.3" x2="229.4" y2="2015.3" stroke="#000" stroke-width="6" />
<text x="143.67" y="2035.20" font-size="55.28" font-weight="bold" fill="#0d0d0d" textLength="60.43" lengthAdjust="spacingAndGlyphs" >2.4</text>
<line x1="209.3" y1="2138.3" x2="229.4" y2="2138.3" stroke="#000" stroke-width="6" />
<text x="143.63" y="2159.20" font-size="53.92" font-weight="bold" fill="#0d0d0d" textLength="61.69" lengthAdjust="spacingAndGlyphs" >2.2</text>
<line x1="209.3" y1="2262.4" x2="229.4" y2="2262.4" stroke="#000" stroke-width="6" />
<text x="143.64" y="2283.20" font-size="55.03" font-weight="bold" fill="#0d0d0d" textLength="61.44" lengthAdjust="spacingAndGlyphs" >2.0</text>
<line x1="209.3" y1="2384.5" x2="229.4" y2="2384.5" stroke="#000" stroke-width="6" />
<text x="141.65" y="2406.30" font-size="56.69" font-weight="bold" fill="#0d0d0d" textLength="63.23" lengthAdjust="spacingAndGlyphs" >1.8</text>
<line x1="209.3" y1="2508.5" x2="229.4" y2="2508.5" stroke="#000" stroke-width="6" />
<text x="141.66" y="2531.40" font-size="56.94" font-weight="bold" fill="#0d0d0d" textLength="63.01" lengthAdjust="spacingAndGlyphs" >1.6</text>
<line x1="209.3" y1="2632.5" x2="229.4" y2="2632.5" stroke="#000" stroke-width="6" />
<text x="141.70" y="2654.40" font-size="57.11" font-weight="bold" fill="#0d0d0d" textLength="62.43" lengthAdjust="spacingAndGlyphs" >1.4</text>
<line x1="359.6" y1="2632.5" x2="359.6" y2="2656.2" stroke="#000" stroke-width="6" />
<line x1="524.7" y1="2632.5" x2="524.7" y2="2656.2" stroke="#000" stroke-width="6" />
<line x1="686.7" y1="2632.5" x2="686.7" y2="2656.2" stroke="#000" stroke-width="6" />
<line x1="832.9" y1="2632.5" x2="832.9" y2="2656.2" stroke="#000" stroke-width="6" />
<text x="315.67" y="2696.60" font-size="46.26" font-weight="bold" fill="#0d0d0d" textLength="77.47" lengthAdjust="spacingAndGlyphs" >Ctrl</text>
<text x="476.27" y="2696.60" font-size="46.97" font-weight="bold" fill="#0d0d0d" textLength="105.26" lengthAdjust="spacingAndGlyphs" >DON</text>
<text x="635.80" y="2696.60" font-size="46.97" font-weight="bold" fill="#0d0d0d" textLength="99.93" lengthAdjust="spacingAndGlyphs" >CGA</text>
<text x="804.53" y="2696.60" font-size="47.50" font-weight="bold" fill="#0d0d0d" textLength="60.87" lengthAdjust="spacingAndGlyphs" >VX</text>
<text transform="translate(110.40,2637.60) rotate(-90)" x="0" y="0" font-size="52.38" font-weight="bold" fill="#0d0d0d" textLength="610.09" lengthAdjust="spacingAndGlyphs">Firmicutes/Bacteroidota</text>
<ellipse cx="359.9" cy="2074" rx="22.8" ry="27" fill="#138013" />
<rect x="502.90" y="2536.70" width="42.50" height="47.90" fill="#b855dd" />
<polygon points="687.00,2186.30 710.50,2239.80 663.50,2239.80" fill="#f8a540" />
<polygon points="833.60,2563.70 840.30,2585.75 860.04,2586.50 844.44,2600.88 849.94,2623.40 833.60,2610.23 817.26,2623.40 822.76,2600.88 807.16,2586.50 826.90,2585.75" fill="#1030f0" />
<path d="M505.50,2460.70 L507.30,2443.00 L497.70,2443.00 L499.50,2460.70Z M503.43,2463.55 L520.82,2459.80 L517.85,2450.67 L501.57,2457.85Z M500.07,2462.46 L509.02,2477.84 L516.79,2472.20 L504.93,2458.94Z M500.07,2458.94 L488.21,2472.20 L495.98,2477.84 L504.93,2462.46Z M503.43,2457.85 L487.15,2450.67 L484.18,2459.80 L501.57,2463.55Z" fill="#0a0a0a"/>
<circle cx="502.5" cy="2460.7" r="3.7199999999999998" fill="#0a0a0a" />
<path d="M548.40,2460.70 L550.20,2443.00 L540.60,2443.00 L542.40,2460.70Z M546.33,2463.55 L563.72,2459.80 L560.75,2450.67 L544.47,2457.85Z M542.97,2462.46 L551.92,2477.84 L559.69,2472.20 L547.83,2458.94Z M542.97,2458.94 L531.11,2472.20 L538.88,2477.84 L547.83,2462.46Z M546.33,2457.85 L530.05,2450.67 L527.08,2459.80 L544.47,2463.55Z" fill="#0a0a0a"/>
<circle cx="545.4" cy="2460.7" r="3.7199999999999998" fill="#0a0a0a" />
<path d="M820.70,2522.50 L822.50,2504.80 L812.90,2504.80 L814.70,2522.50Z M818.63,2525.35 L836.02,2521.60 L833.05,2512.47 L816.77,2519.65Z M815.27,2524.26 L824.22,2539.64 L831.99,2534.00 L820.13,2520.74Z M815.27,2520.74 L803.41,2534.00 L811.18,2539.64 L820.13,2524.26Z M818.63,2519.65 L802.35,2512.47 L799.38,2521.60 L816.77,2525.35Z" fill="#0a0a0a"/>
<circle cx="817.7" cy="2522.5" r="3.7199999999999998" fill="#0a0a0a" />
<path d="M863.60,2522.50 L865.40,2504.80 L855.80,2504.80 L857.60,2522.50Z M861.53,2525.35 L878.92,2521.60 L875.95,2512.47 L859.67,2519.65Z M858.17,2524.26 L867.12,2539.64 L874.89,2534.00 L863.03,2520.74Z M858.17,2520.74 L846.31,2534.00 L854.08,2539.64 L863.03,2524.26Z M861.53,2519.65 L845.25,2512.47 L842.28,2521.60 L859.67,2525.35Z" fill="#0a0a0a"/>
<circle cx="860.6" cy="2522.5" r="3.7199999999999998" fill="#0a0a0a" />
<path d="M676.46,2103.80 L681.33,2103.80 L673.41,2139.30 L668.55,2139.30Z M688.83,2103.80 L693.70,2103.80 L685.79,2139.30 L680.92,2139.30Z M668.34,2114.75 L695.73,2114.75 L695.12,2119.01 L667.73,2119.01Z M665.91,2125.30 L693.29,2125.30 L692.69,2129.56 L665.30,2129.56Z" fill="#0a0a0a"/>
<path d="M707.83,2103.80 L712.70,2103.80 L704.79,2139.30 L699.92,2139.30Z M720.20,2103.80 L725.07,2103.80 L717.16,2139.30 L712.29,2139.30Z M699.71,2114.75 L727.10,2114.75 L726.49,2119.01 L699.11,2119.01Z M697.28,2125.30 L724.67,2125.30 L724.06,2129.56 L696.67,2129.56Z" fill="#0a0a0a"/>
<text x="1292.30" y="1969.60" font-size="52.84" font-weight="bold" fill="#0d0d0d" textLength="448.55" lengthAdjust="spacingAndGlyphs" >Deferribacterota</text>
<line x1="1297.7" y1="2017.1" x2="1297.7" y2="2643.7" stroke="#000" stroke-width="6" />
<line x1="1282" y1="2640.7" x2="2034" y2="2640.7" stroke="#000" stroke-width="5" />
<line x1="1282.2" y1="2051.4" x2="1297.7" y2="2051.4" stroke="#000" stroke-width="3" />
<text x="1247.34" y="2064.00" font-size="37.29" font-weight="bold" fill="#0d0d0d" textLength="20.53" lengthAdjust="spacingAndGlyphs" >8</text>
<line x1="1282.2" y1="2199.8" x2="1297.7" y2="2199.8" stroke="#000" stroke-width="3" />
<text x="1247.27" y="2212.30" font-size="37.31" font-weight="bold" fill="#0d0d0d" textLength="20.96" lengthAdjust="spacingAndGlyphs" >6</text>
<line x1="1282.2" y1="2344.4" x2="1297.7" y2="2344.4" stroke="#000" stroke-width="3" />
<text x="1247.43" y="2357.00" font-size="37.22" font-weight="bold" fill="#0d0d0d" textLength="20.84" lengthAdjust="spacingAndGlyphs" >4</text>
<line x1="1282.2" y1="2492.8" x2="1297.7" y2="2492.8" stroke="#000" stroke-width="3" />
<text x="1246.33" y="2502.40" font-size="37.91" font-weight="bold" fill="#0d0d0d" textLength="23.49" lengthAdjust="spacingAndGlyphs" >2</text>
<line x1="1282.2" y1="2640" x2="1297.7" y2="2640" stroke="#000" stroke-width="3" />
<text x="1247.98" y="2649.20" font-size="37.44" font-weight="bold" fill="#0d0d0d" textLength="23.83" lengthAdjust="spacingAndGlyphs" >0</text>
<line x1="1420.7" y1="2640.7" x2="1420.7" y2="2647.8" stroke="#000" stroke-width="3" />
<line x1="1582.7" y1="2640.7" x2="1582.7" y2="2647.8" stroke="#000" stroke-width="3" />
<line x1="1749.8" y1="2640.7" x2="1749.8" y2="2647.8" stroke="#000" stroke-width="3" />
<line x1="1912.6" y1="2640.7" x2="1912.6" y2="2647.8" stroke="#000" stroke-width="3" />
<text x="1380.17" y="2701.30" font-size="44.97" font-weight="bold" fill="#0d0d0d" textLength="77.47" lengthAdjust="spacingAndGlyphs" >Ctrl</text>
<text x="1540.16" y="2701.30" font-size="45.76" font-weight="bold" fill="#0d0d0d" textLength="105.87" lengthAdjust="spacingAndGlyphs" >DON</text>
<text x="1700.20" y="2701.30" font-size="45.76" font-weight="bold" fill="#0d0d0d" textLength="100.03" lengthAdjust="spacingAndGlyphs" >CGA</text>
<text x="1882.93" y="2701.30" font-size="46.27" font-weight="bold" fill="#0d0d0d" textLength="60.77" lengthAdjust="spacingAndGlyphs" >VX</text>
<text transform="translate(1184.70,2542.31) rotate(-90)" x="0" y="0" font-size="58.34" font-weight="bold" fill="#0d0d0d" textLength="487.38" lengthAdjust="spacingAndGlyphs">Relative abundance (%)</text>
<line x1="1419.8" y1="2453.8" x2="1419.8" y2="2473.1" stroke="#111" stroke-width="3.5" />
<line x1="1419.8" y1="2515.4" x2="1419.8" y2="2535.5" stroke="#111" stroke-width="3.5" />
<rect x="1378.90" y="2474.20" width="83.00" height="40.10" fill="#80bf7e" stroke="#2a2a2a" stroke-width="2.2" />
<line x1="1380.0" y1="2488.3" x2="1460.8" y2="2488.3" stroke="#1a1a1a" stroke-width="3" />
<line x1="1580.2" y1="2062.2" x2="1580.2" y2="2082.5" stroke="#111" stroke-width="3" />
<line x1="1580.2" y1="2282" x2="1580.2" y2="2433" stroke="#111" stroke-width="3" />
<rect x="1541.25" y="2083.75" width="80.60" height="197.00" fill="#c2c0e8" stroke="#2a2a3a" stroke-width="2.5" />
<line x1="1542.5" y1="2118" x2="1620.6" y2="2118" stroke="#2a2a3a" stroke-width="3.5" />
<line x1="1540" y1="2083.5" x2="1623.1" y2="2083.5" stroke="#111" stroke-width="3.5" />
<line x1="1749" y1="2533.5" x2="1749" y2="2548.7" stroke="#111" stroke-width="3.5" />
<line x1="1749" y1="2597.4" x2="1749" y2="2615.5" stroke="#111" stroke-width="3.5" />
<rect x="1708.50" y="2549.70" width="82.00" height="46.70" fill="#fbb880" stroke="#333" stroke-width="2" />
<line x1="1709.5" y1="2572.9" x2="1789.5" y2="2572.9" stroke="#222" stroke-width="3" />
<line x1="1912.9" y1="2545.9" x2="1912.9" y2="2583.8" stroke="#222" stroke-width="3" />
<rect x="1872.00" y="2508.10" width="83.00" height="37.30" fill="#3a6eb3" stroke="#3a6eb3" stroke-width="1" />
<line x1="1871.5" y1="2509.3" x2="1955.5" y2="2509.3" stroke="#1a3060" stroke-width="3.5" />
<path d="M1567.30,2025.60 L1569.10,2007.90 L1559.50,2007.90 L1561.30,2025.60Z M1565.23,2028.45 L1582.62,2024.70 L1579.65,2015.57 L1563.37,2022.75Z M1561.87,2027.36 L1570.82,2042.74 L1578.59,2037.10 L1566.73,2023.84Z M1561.87,2023.84 L1550.01,2037.10 L1557.78,2042.74 L1566.73,2027.36Z M1565.23,2022.75 L1548.95,2015.57 L1545.98,2024.70 L1563.37,2028.45Z" fill="#0a0a0a"/>
<circle cx="1564.3" cy="2025.6" r="3.7199999999999998" fill="#0a0a0a" />
<path d="M1609.40,2025.60 L1611.20,2007.90 L1601.60,2007.90 L1603.40,2025.60Z M1607.33,2028.45 L1624.72,2024.70 L1621.75,2015.57 L1605.47,2022.75Z M1603.97,2027.36 L1612.92,2042.74 L1620.69,2037.10 L1608.83,2023.84Z M1603.97,2023.84 L1592.11,2037.10 L1599.88,2042.74 L1608.83,2027.36Z M1607.33,2022.75 L1591.05,2015.57 L1588.08,2024.70 L1605.47,2028.45Z" fill="#0a0a0a"/>
<circle cx="1606.4" cy="2025.6" r="3.7199999999999998" fill="#0a0a0a" />
<ellipse cx="1554.2" cy="2503.9" rx="2.2" ry="1.3" fill="#222" />
<path d="M1742.13,2380.00 L1746.95,2380.00 L1739.12,2415.10 L1734.31,2415.10Z M1754.37,2380.00 L1759.18,2380.00 L1751.36,2415.10 L1746.54,2415.10Z M1734.11,2390.83 L1761.19,2390.83 L1760.58,2395.04 L1733.51,2395.04Z M1731.70,2401.26 L1758.78,2401.26 L1758.18,2405.47 L1731.10,2405.47Z" fill="#0a0a0a"/>
<path d="M1774.45,2380.00 L1779.26,2380.00 L1771.44,2415.10 L1766.62,2415.10Z M1786.68,2380.00 L1791.49,2380.00 L1783.67,2415.10 L1778.86,2415.10Z M1766.42,2390.83 L1793.50,2390.83 L1792.90,2395.04 L1765.82,2395.04Z M1764.02,2401.26 L1791.09,2401.26 L1790.49,2405.47 L1763.41,2405.47Z" fill="#0a0a0a"/>
<path d="M1898.03,2380.00 L1902.85,2380.00 L1895.02,2415.10 L1890.21,2415.10Z M1910.27,2380.00 L1915.08,2380.00 L1907.26,2415.10 L1902.44,2415.10Z M1890.01,2390.83 L1917.09,2390.83 L1916.48,2395.04 L1889.41,2395.04Z M1887.60,2401.26 L1914.68,2401.26 L1914.08,2405.47 L1887.00,2405.47Z" fill="#0a0a0a"/>
<path d="M1930.35,2380.00 L1935.16,2380.00 L1927.34,2415.10 L1922.52,2415.10Z M1942.58,2380.00 L1947.39,2380.00 L1939.57,2415.10 L1934.76,2415.10Z M1922.32,2390.83 L1949.40,2390.83 L1948.80,2395.04 L1921.72,2395.04Z M1919.92,2401.26 L1946.99,2401.26 L1946.39,2405.47 L1919.31,2405.47Z" fill="#0a0a0a"/>
<text x="2356.77" y="1961.80" font-size="51.01" font-weight="bold" fill="#0d0d0d" textLength="440.74" lengthAdjust="spacingAndGlyphs" >Pseudomonadota</text>
<line x1="2363.8" y1="2017.1" x2="2363.8" y2="2640.4" stroke="#000" stroke-width="5" />
<line x1="2361.3" y1="2637.9" x2="3099" y2="2637.9" stroke="#000" stroke-width="5" />
<line x1="2354" y1="2047.5" x2="2363.8" y2="2047.5" stroke="#000" stroke-width="2.5" />
<text x="2320.53" y="2064.50" font-size="48.33" font-weight="bold" fill="#0d0d0d" textLength="28.84" lengthAdjust="spacingAndGlyphs" >3</text>
<line x1="2354" y1="2235.8" x2="2363.8" y2="2235.8" stroke="#000" stroke-width="2.5" />
<text x="2320.20" y="2252.80" font-size="48.33" font-weight="bold" fill="#0d0d0d" textLength="29.76" lengthAdjust="spacingAndGlyphs" >2</text>
<line x1="2354" y1="2424.1" x2="2363.8" y2="2424.1" stroke="#000" stroke-width="2.5" />
<text x="2317.33" y="2444.80" font-size="51.20" font-weight="bold" fill="#0d0d0d" textLength="33.54" lengthAdjust="spacingAndGlyphs" >1</text>
<line x1="2354" y1="2613.2" x2="2363.8" y2="2613.2" stroke="#000" stroke-width="2.5" />
<text x="2320.48" y="2629.30" font-size="47.97" font-weight="bold" fill="#0d0d0d" textLength="29.14" lengthAdjust="spacingAndGlyphs" >0</text>
<line x1="2469.2" y1="2637.9" x2="2469.2" y2="2646" stroke="#000" stroke-width="2.5" />
<line x1="2644.6" y1="2637.9" x2="2644.6" y2="2646" stroke="#000" stroke-width="2.5" />
<line x1="2820" y1="2637.9" x2="2820" y2="2646" stroke="#000" stroke-width="2.5" />
<line x1="2995" y1="2637.9" x2="2995" y2="2646" stroke="#000" stroke-width="2.5" />
<text x="2418.97" y="2702.80" font-size="45.40" font-weight="bold" fill="#0d0d0d" textLength="77.58" lengthAdjust="spacingAndGlyphs" >Ctrl</text>
<text x="2602.17" y="2702.80" font-size="46.06" font-weight="bold" fill="#0d0d0d" textLength="105.36" lengthAdjust="spacingAndGlyphs" >DON</text>
<text x="2782.70" y="2702.80" font-size="46.06" font-weight="bold" fill="#0d0d0d" textLength="99.93" lengthAdjust="spacingAndGlyphs" >CGA</text>
<text x="2966.24" y="2702.80" font-size="46.58" font-weight="bold" fill="#0d0d0d" textLength="59.44" lengthAdjust="spacingAndGlyphs" >VX</text>
<text transform="translate(2280.90,2590.46) rotate(-90)" x="0" y="0" font-size="58.19" font-weight="bold" fill="#0d0d0d" textLength="518.46" lengthAdjust="spacingAndGlyphs">Relative abundance (%)</text>
<rect x="2441.20" y="2584.20" width="57.90" height="14.90" fill="#20a050" />
<line x1="2469.4" y1="2581" x2="2469.4" y2="2602" stroke="#20a050" stroke-width="4" />
<line x1="2645.2" y1="2045.6" x2="2645.2" y2="2270" stroke="#6a60d0" stroke-width="3.9" />
<rect x="2619.20" y="2270.30" width="52.10" height="233.70" fill="#c4c0e8" stroke="#6a5fd0" stroke-width="3" />
<rect x="2619.20" y="2493.60" width="52.10" height="10.40" fill="#8078d0" />
<line x1="2819.9" y1="2533.7" x2="2819.9" y2="2611" stroke="#e88a10" stroke-width="4" />
<rect x="2793.10" y="2555.10" width="54.40" height="38.00" fill="#ffc81a" stroke="#e87a10" stroke-width="3" />
<line x1="2794.6" y1="2575.7" x2="2846" y2="2575.7" stroke="#f08010" stroke-width="5" />
<line x1="2995.1" y1="2370" x2="2995.1" y2="2397" stroke="#2a40e0" stroke-width="4" />
<rect x="2967.00" y="2373.90" width="56.50" height="16.80" fill="#2a40e0" stroke="#2a40e0" stroke-width="1" />
<line x1="2967.5" y1="2385.2" x2="3023" y2="2385.2" stroke="#c0c8ff" stroke-width="2" />
<ellipse cx="2952.9" cy="2378.7" rx="4.5" ry="3.8" fill="#f4f8fa" stroke="#98c4e6" stroke-width="1.6"/>
<ellipse cx="2968.4" cy="2368.6" rx="4.5" ry="3.8" fill="#f4f8fa" stroke="#98c4e6" stroke-width="1.6"/>
<ellipse cx="3007.6" cy="2399.2" rx="4.5" ry="3.8" fill="#f4f8fa" stroke="#a8d0ec" stroke-width="1.6"/>
<ellipse cx="2406.5" cy="2590.5" rx="4.5" ry="3.8" fill="#f4f8fa" stroke="#b4dcb4" stroke-width="1.6"/>
<ellipse cx="2430" cy="2578" rx="4.5" ry="3.8" fill="#f4f8fa" stroke="#b4dcb4" stroke-width="1.6"/>
<ellipse cx="2421.5" cy="2602" rx="4.5" ry="3.8" fill="#f4f8fa" stroke="#b4dcb4" stroke-width="1.6"/>
<ellipse cx="2838.6" cy="2532.3" rx="4.5" ry="3.8" fill="#f4f8fa" stroke="#e4d49c" stroke-width="1.6"/>
<ellipse cx="2574.8" cy="2495.7" rx="4.5" ry="3.8" fill="#f4f8fa" stroke="#d4d4d4" stroke-width="1.6"/>
<path d="M2647.40,2018.80 L2649.20,2001.10 L2639.60,2001.10 L2641.40,2018.80Z M2645.33,2021.65 L2662.72,2017.90 L2659.75,2008.77 L2643.47,2015.95Z M2641.97,2020.56 L2650.92,2035.94 L2658.69,2030.30 L2646.83,2017.04Z M2641.97,2017.04 L2630.11,2030.30 L2637.88,2035.94 L2646.83,2020.56Z M2645.33,2015.95 L2629.05,2008.77 L2626.08,2017.90 L2643.47,2021.65Z" fill="#0a0a0a"/>
<circle cx="2644.4" cy="2018.8" r="3.7199999999999998" fill="#0a0a0a" />
<path d="M2801.58,2460.40 L2806.54,2460.40 L2798.47,2496.60 L2793.51,2496.60Z M2814.20,2460.40 L2819.16,2460.40 L2811.09,2496.60 L2806.13,2496.60Z M2793.30,2471.57 L2821.23,2471.57 L2820.61,2475.91 L2792.68,2475.91Z M2790.82,2482.33 L2818.75,2482.33 L2818.13,2486.67 L2790.20,2486.67Z" fill="#0a0a0a"/>
<path d="M2831.35,2460.40 L2836.31,2460.40 L2828.25,2496.60 L2823.28,2496.60Z M2843.97,2460.40 L2848.93,2460.40 L2840.86,2496.60 L2835.90,2496.60Z M2823.07,2471.57 L2851.00,2471.57 L2850.38,2475.91 L2822.45,2475.91Z M2820.59,2482.33 L2848.52,2482.33 L2847.90,2486.67 L2819.97,2486.67Z" fill="#0a0a0a"/>
</svg></body></html>
